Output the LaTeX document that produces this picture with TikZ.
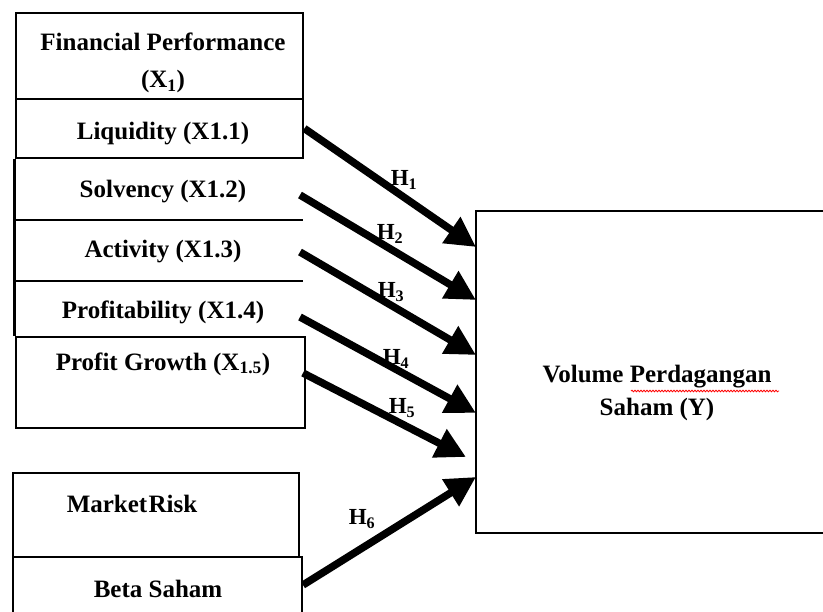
\documentclass[tikz,border=0pt]{standalone}
\usepackage{fontspec}
\setmainfont{Liberation Serif}
\usetikzlibrary{arrows.meta,decorations.pathmorphing}
\begin{document}
\begin{tikzpicture}[x=1pt,y=-1pt,
  box/.style={draw=black, line width=2.8pt, inner sep=0pt},
  lbl/.style={font=\bfseries\fontsize{25}{37}\selectfont, align=center, inner sep=0pt},
  hyp/.style={font=\bfseries\fontsize{23}{26}\selectfont, inner sep=0pt},
  conn/.style={line width=7.5pt, -{Triangle[length=30pt,width=30pt]}},
]
\clip (0,0) rectangle (823,612);
\fill[white] (0,0) rectangle (823,612);
% left boxes
\node[box, minimum width=287pt, minimum height=86pt] (fp) at (159.5,56) {};
\node[box, minimum width=287pt, minimum height=59pt] (liq) at (159.5,128.5) {};
\node[box, minimum width=289pt, minimum height=91pt] (pg) at (160.5,382.5) {};
\draw[line width=2.8pt] (liq.south west) -- (pg.north west);
\draw[line width=2.8pt] (16,220) -- (303,220);
\draw[line width=2.8pt] (16,281) -- (303,281);
\node[box, minimum width=286pt, minimum height=84pt] (mr) at (156,515) {};
\node[box, minimum width=289pt, minimum height=90pt] (beta) at (157.5,602) {};
\node[box, minimum width=370pt, minimum height=322pt] (Y) at (661,372) {};
% texts
\node[lbl] (fpt) at (163,63) {Financial Performance\\(X\textsubscript{1})};
\node[lbl] (liqt) at (163,134) {Liquidity (X1.1)};
\node[lbl] (solt) at (163,192) {Solvency (X1.2)};
\node[lbl] (actt) at (163,252) {Activity (X1.3)};
\node[lbl] (prot) at (163,312) {Profitability (X1.4)};
\node[lbl] (pgt) at (163,364) {Profit Growth (X\textsubscript{1.5})};
\node[lbl] (mrt) at (132,504) {Market\hspace{0.05em}Risk};
\node[lbl] (bt) at (158,589) {Beta Saham};
\node[lbl, font=\bfseries\fontsize{25}{33}\selectfont] (yt) at (657,393) {Volume Perdagangan\\Saham (Y)};
\draw[red, line width=0.8pt, decorate, decoration={snake, amplitude=0.8pt, segment length=3pt}] (631,391) -- (779,391);
% connector ends
\coordinate (s2) at (300,195);
\coordinate (s3) at (300,252);
\coordinate (s4) at (300,317);
\coordinate (s5) at (303,373);
\coordinate (s6) at (303,585);
\coordinate (t1) at (476,247);
\coordinate (t2) at (476,300);
\coordinate (t3) at (476,355);
\coordinate (t4) at (476,413);
\coordinate (t5) at (466,457);
\coordinate (t6) at (476,477);
\draw[conn] (liq.east) -- (t1);
\draw[conn] (s2) -- (t2);
\draw[conn] (s3) -- (t3);
\draw[conn] (s4) -- (t4);
\draw[conn] (s5) -- (t5);
\draw[conn] (s6) -- (t6);
% hypothesis labels
\node[hyp] (h1) at (404,180) {H\textsubscript{1}};
\node[hyp] (h2) at (390,234) {H\textsubscript{2}};
\node[hyp] (h3) at (391,292) {H\textsubscript{3}};
\node[hyp] (h4) at (396,359) {H\textsubscript{4}};
\node[hyp] (h5) at (402,408) {H\textsubscript{5}};
\node[hyp] (h6) at (362,519) {H\textsubscript{6}};
\end{tikzpicture}
\end{document}
